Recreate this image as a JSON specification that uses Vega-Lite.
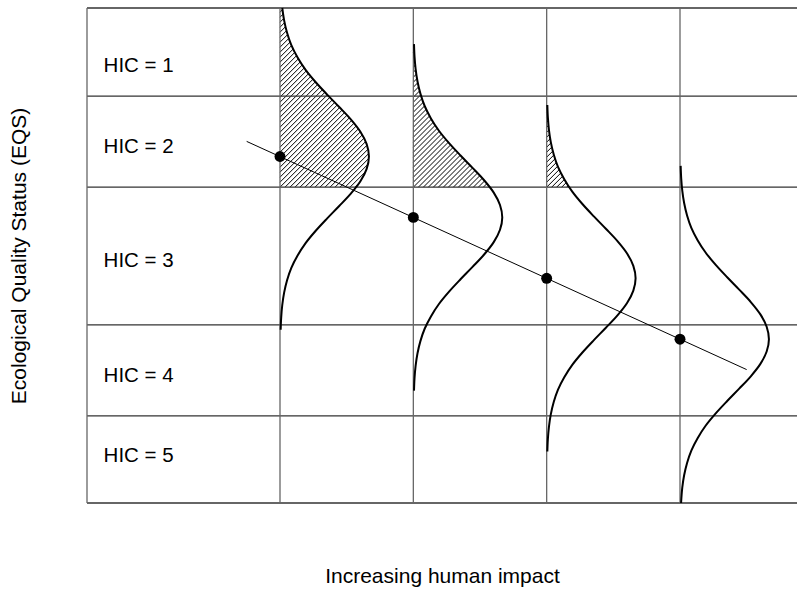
{
  "$schema": "https://vega.github.io/schema/vega-lite/v6.json",
  "width": 710,
  "height": 495,
  "autosize": "none",
  "padding": {"left": 87, "top": 8, "right": 0, "bottom": 86},
  "background": "white",
  "config": {"view": {"stroke": null}, "font": "Liberation Sans"},
  "datasets": {
    "hgrid": [
      {"impact": -0.4475, "impact2": 4.8775, "eqs": 0},
      {"impact": -0.4475, "impact2": 4.8775, "eqs": 0.176},
      {"impact": -0.4475, "impact2": 4.8775, "eqs": 0.36},
      {"impact": -0.4475, "impact2": 4.8775, "eqs": 0.638},
      {"impact": -0.4475, "impact2": 4.8775, "eqs": 0.822},
      {"impact": -0.4475, "impact2": 4.8775, "eqs": 1.0}
    ],
    "vgrid": [
      {"impact": -0.4475, "eqs": 0, "eqs2": 1},
      {"impact": 1, "eqs": 0, "eqs2": 1},
      {"impact": 2, "eqs": 0, "eqs2": 1},
      {"impact": 3, "eqs": 0, "eqs2": 1},
      {"impact": 4, "eqs": 0, "eqs2": 1}
    ],
    "hatch": [
      {"impact": 1.5625, "eqs": 0.638, "impact2": 1.675, "eqs2": 0.6683},
      {"impact": 1.525, "eqs": 0.638, "impact2": 1.675, "eqs2": 0.6784},
      {"impact": 1.4875, "eqs": 0.638, "impact2": 1.675, "eqs2": 0.6885},
      {"impact": 1.45, "eqs": 0.638, "impact2": 1.675, "eqs2": 0.6986},
      {"impact": 1.4125, "eqs": 0.638, "impact2": 1.675, "eqs2": 0.7087},
      {"impact": 1.375, "eqs": 0.638, "impact2": 1.675, "eqs2": 0.7188},
      {"impact": 1.3375, "eqs": 0.638, "impact2": 1.675, "eqs2": 0.7289},
      {"impact": 1.3, "eqs": 0.638, "impact2": 1.675, "eqs2": 0.739},
      {"impact": 1.2625, "eqs": 0.638, "impact2": 1.675, "eqs2": 0.7491},
      {"impact": 1.225, "eqs": 0.638, "impact2": 1.675, "eqs2": 0.7592},
      {"impact": 1.1875, "eqs": 0.638, "impact2": 1.675, "eqs2": 0.7693},
      {"impact": 1.15, "eqs": 0.638, "impact2": 1.675, "eqs2": 0.7794},
      {"impact": 1.1125, "eqs": 0.638, "impact2": 1.675, "eqs2": 0.7895},
      {"impact": 1.075, "eqs": 0.638, "impact2": 1.675, "eqs2": 0.7996},
      {"impact": 1.0375, "eqs": 0.638, "impact2": 1.675, "eqs2": 0.8097},
      {"impact": 1, "eqs": 0.638, "impact2": 1.675, "eqs2": 0.8198},
      {"impact": 1, "eqs": 0.6481, "impact2": 1.675, "eqs2": 0.8299},
      {"impact": 1, "eqs": 0.6582, "impact2": 1.675, "eqs2": 0.84},
      {"impact": 1, "eqs": 0.6683, "impact2": 1.675, "eqs2": 0.8501},
      {"impact": 1, "eqs": 0.6784, "impact2": 1.675, "eqs2": 0.8602},
      {"impact": 1, "eqs": 0.6885, "impact2": 1.675, "eqs2": 0.8703},
      {"impact": 1, "eqs": 0.6986, "impact2": 1.675, "eqs2": 0.8804},
      {"impact": 1, "eqs": 0.7087, "impact2": 1.675, "eqs2": 0.8905},
      {"impact": 1, "eqs": 0.7188, "impact2": 1.675, "eqs2": 0.9006},
      {"impact": 1, "eqs": 0.7289, "impact2": 1.675, "eqs2": 0.9107},
      {"impact": 1, "eqs": 0.739, "impact2": 1.675, "eqs2": 0.9208},
      {"impact": 1, "eqs": 0.7491, "impact2": 1.675, "eqs2": 0.9309},
      {"impact": 1, "eqs": 0.7592, "impact2": 1.675, "eqs2": 0.941},
      {"impact": 1, "eqs": 0.7693, "impact2": 1.675, "eqs2": 0.9511},
      {"impact": 1, "eqs": 0.7794, "impact2": 1.675, "eqs2": 0.9612},
      {"impact": 1, "eqs": 0.7895, "impact2": 1.675, "eqs2": 0.9713},
      {"impact": 1, "eqs": 0.7996, "impact2": 1.675, "eqs2": 0.9814},
      {"impact": 1, "eqs": 0.8097, "impact2": 1.675, "eqs2": 0.9915},
      {"impact": 1, "eqs": 0.8198, "impact2": 1.675, "eqs2": 1.0016},
      {"impact": 1, "eqs": 0.8299, "impact2": 1.6375, "eqs2": 1.0016},
      {"impact": 1, "eqs": 0.84, "impact2": 1.6, "eqs2": 1.0016},
      {"impact": 1, "eqs": 0.8501, "impact2": 1.5625, "eqs2": 1.0016},
      {"impact": 1, "eqs": 0.8602, "impact2": 1.525, "eqs2": 1.0016},
      {"impact": 1, "eqs": 0.8703, "impact2": 1.4875, "eqs2": 1.0016},
      {"impact": 1, "eqs": 0.8804, "impact2": 1.45, "eqs2": 1.0016},
      {"impact": 1, "eqs": 0.8905, "impact2": 1.4125, "eqs2": 1.0016},
      {"impact": 1, "eqs": 0.9006, "impact2": 1.375, "eqs2": 1.0016},
      {"impact": 1, "eqs": 0.9107, "impact2": 1.3375, "eqs2": 1.0016},
      {"impact": 1, "eqs": 0.9208, "impact2": 1.3, "eqs2": 1.0016},
      {"impact": 1, "eqs": 0.9309, "impact2": 1.2625, "eqs2": 1.0016},
      {"impact": 1, "eqs": 0.941, "impact2": 1.225, "eqs2": 1.0016},
      {"impact": 1, "eqs": 0.9511, "impact2": 1.1875, "eqs2": 1.0016},
      {"impact": 1, "eqs": 0.9612, "impact2": 1.15, "eqs2": 1.0016},
      {"impact": 1, "eqs": 0.9713, "impact2": 1.1125, "eqs2": 1.0016},
      {"impact": 1, "eqs": 0.9814, "impact2": 1.075, "eqs2": 1.0016},
      {"impact": 1, "eqs": 0.9915, "impact2": 1.0375, "eqs2": 1.0016},
      {"impact": 2.5625, "eqs": 0.638, "impact2": 2.6, "eqs2": 0.6481},
      {"impact": 2.525, "eqs": 0.638, "impact2": 2.6, "eqs2": 0.6582},
      {"impact": 2.4875, "eqs": 0.638, "impact2": 2.6, "eqs2": 0.6683},
      {"impact": 2.45, "eqs": 0.638, "impact2": 2.6, "eqs2": 0.6784},
      {"impact": 2.4125, "eqs": 0.638, "impact2": 2.6, "eqs2": 0.6885},
      {"impact": 2.375, "eqs": 0.638, "impact2": 2.6, "eqs2": 0.6986},
      {"impact": 2.3375, "eqs": 0.638, "impact2": 2.6, "eqs2": 0.7087},
      {"impact": 2.3, "eqs": 0.638, "impact2": 2.6, "eqs2": 0.7188},
      {"impact": 2.2625, "eqs": 0.638, "impact2": 2.6, "eqs2": 0.7289},
      {"impact": 2.225, "eqs": 0.638, "impact2": 2.6, "eqs2": 0.739},
      {"impact": 2.1875, "eqs": 0.638, "impact2": 2.6, "eqs2": 0.7491},
      {"impact": 2.15, "eqs": 0.638, "impact2": 2.6, "eqs2": 0.7592},
      {"impact": 2.1125, "eqs": 0.638, "impact2": 2.6, "eqs2": 0.7693},
      {"impact": 2.075, "eqs": 0.638, "impact2": 2.6, "eqs2": 0.7794},
      {"impact": 2.0375, "eqs": 0.638, "impact2": 2.6, "eqs2": 0.7895},
      {"impact": 2, "eqs": 0.638, "impact2": 2.6, "eqs2": 0.7996},
      {"impact": 2, "eqs": 0.6481, "impact2": 2.6, "eqs2": 0.8097},
      {"impact": 2, "eqs": 0.6582, "impact2": 2.6, "eqs2": 0.8198},
      {"impact": 2, "eqs": 0.6683, "impact2": 2.6, "eqs2": 0.8299},
      {"impact": 2, "eqs": 0.6784, "impact2": 2.6, "eqs2": 0.84},
      {"impact": 2, "eqs": 0.6885, "impact2": 2.6, "eqs2": 0.8501},
      {"impact": 2, "eqs": 0.6986, "impact2": 2.6, "eqs2": 0.8602},
      {"impact": 2, "eqs": 0.7087, "impact2": 2.6, "eqs2": 0.8703},
      {"impact": 2, "eqs": 0.7188, "impact2": 2.6, "eqs2": 0.8804},
      {"impact": 2, "eqs": 0.7289, "impact2": 2.6, "eqs2": 0.8905},
      {"impact": 2, "eqs": 0.739, "impact2": 2.6, "eqs2": 0.9006},
      {"impact": 2, "eqs": 0.7491, "impact2": 2.6, "eqs2": 0.9107},
      {"impact": 2, "eqs": 0.7592, "impact2": 2.6, "eqs2": 0.9208},
      {"impact": 2, "eqs": 0.7693, "impact2": 2.5625, "eqs2": 0.9208},
      {"impact": 2, "eqs": 0.7794, "impact2": 2.525, "eqs2": 0.9208},
      {"impact": 2, "eqs": 0.7895, "impact2": 2.4875, "eqs2": 0.9208},
      {"impact": 2, "eqs": 0.7996, "impact2": 2.45, "eqs2": 0.9208},
      {"impact": 2, "eqs": 0.8097, "impact2": 2.4125, "eqs2": 0.9208},
      {"impact": 2, "eqs": 0.8198, "impact2": 2.375, "eqs2": 0.9208},
      {"impact": 2, "eqs": 0.8299, "impact2": 2.3375, "eqs2": 0.9208},
      {"impact": 2, "eqs": 0.84, "impact2": 2.3, "eqs2": 0.9208},
      {"impact": 2, "eqs": 0.8501, "impact2": 2.2625, "eqs2": 0.9208},
      {"impact": 2, "eqs": 0.8602, "impact2": 2.225, "eqs2": 0.9208},
      {"impact": 2, "eqs": 0.8703, "impact2": 2.1875, "eqs2": 0.9208},
      {"impact": 2, "eqs": 0.8804, "impact2": 2.15, "eqs2": 0.9208},
      {"impact": 2, "eqs": 0.8905, "impact2": 2.1125, "eqs2": 0.9208},
      {"impact": 2, "eqs": 0.9006, "impact2": 2.075, "eqs2": 0.9208},
      {"impact": 2, "eqs": 0.9107, "impact2": 2.0375, "eqs2": 0.9208},
      {"impact": 3.15, "eqs": 0.638, "impact2": 3.1875, "eqs2": 0.6481},
      {"impact": 3.1125, "eqs": 0.638, "impact2": 3.1875, "eqs2": 0.6582},
      {"impact": 3.075, "eqs": 0.638, "impact2": 3.1875, "eqs2": 0.6683},
      {"impact": 3.0375, "eqs": 0.638, "impact2": 3.1875, "eqs2": 0.6784},
      {"impact": 3, "eqs": 0.638, "impact2": 3.1875, "eqs2": 0.6885},
      {"impact": 3, "eqs": 0.6481, "impact2": 3.1875, "eqs2": 0.6986},
      {"impact": 3, "eqs": 0.6582, "impact2": 3.1875, "eqs2": 0.7087},
      {"impact": 3, "eqs": 0.6683, "impact2": 3.1875, "eqs2": 0.7188},
      {"impact": 3, "eqs": 0.6784, "impact2": 3.1875, "eqs2": 0.7289},
      {"impact": 3, "eqs": 0.6885, "impact2": 3.1875, "eqs2": 0.739},
      {"impact": 3, "eqs": 0.6986, "impact2": 3.1875, "eqs2": 0.7491},
      {"impact": 3, "eqs": 0.7087, "impact2": 3.1875, "eqs2": 0.7592},
      {"impact": 3, "eqs": 0.7188, "impact2": 3.1875, "eqs2": 0.7693},
      {"impact": 3, "eqs": 0.7289, "impact2": 3.1875, "eqs2": 0.7794},
      {"impact": 3, "eqs": 0.739, "impact2": 3.1875, "eqs2": 0.7895},
      {"impact": 3, "eqs": 0.7491, "impact2": 3.1875, "eqs2": 0.7996},
      {"impact": 3, "eqs": 0.7592, "impact2": 3.15, "eqs2": 0.7996},
      {"impact": 3, "eqs": 0.7693, "impact2": 3.1125, "eqs2": 0.7996},
      {"impact": 3, "eqs": 0.7794, "impact2": 3.075, "eqs2": 0.7996},
      {"impact": 3, "eqs": 0.7895, "impact2": 3.0375, "eqs2": 0.7996}
    ],
    "mask": [
      {"m": 1, "eqs": 0.638, "impact": 1.5706, "impact2": 1.75},
      {"m": 1, "eqs": 0.65, "impact": 1.603, "impact2": 1.75},
      {"m": 1, "eqs": 0.675, "impact": 1.65, "impact2": 1.75},
      {"m": 1, "eqs": 0.7, "impact": 1.667, "impact2": 1.75},
      {"m": 1, "eqs": 0.725, "impact": 1.65, "impact2": 1.75},
      {"m": 1, "eqs": 0.75, "impact": 1.603, "impact2": 1.75},
      {"m": 1, "eqs": 0.775, "impact": 1.531, "impact2": 1.75},
      {"m": 1, "eqs": 0.8, "impact": 1.444, "impact2": 1.75},
      {"m": 1, "eqs": 0.825, "impact": 1.354, "impact2": 1.75},
      {"m": 1, "eqs": 0.85, "impact": 1.268, "impact2": 1.75},
      {"m": 1, "eqs": 0.875, "impact": 1.192, "impact2": 1.75},
      {"m": 1, "eqs": 0.9, "impact": 1.132, "impact2": 1.75},
      {"m": 1, "eqs": 0.925, "impact": 1.085, "impact2": 1.75},
      {"m": 1, "eqs": 0.95, "impact": 1.053, "impact2": 1.75},
      {"m": 1, "eqs": 0.975, "impact": 1.031, "impact2": 1.75},
      {"m": 1, "eqs": 1.0, "impact": 1.017, "impact2": 1.75},
      {"m": 2, "eqs": 0.638, "impact": 2.5737, "impact2": 2.7},
      {"m": 2, "eqs": 0.652, "impact": 2.531, "impact2": 2.7},
      {"m": 2, "eqs": 0.677, "impact": 2.444, "impact2": 2.7},
      {"m": 2, "eqs": 0.702, "impact": 2.354, "impact2": 2.7},
      {"m": 2, "eqs": 0.727, "impact": 2.268, "impact2": 2.7},
      {"m": 2, "eqs": 0.752, "impact": 2.192, "impact2": 2.7},
      {"m": 2, "eqs": 0.777, "impact": 2.132, "impact2": 2.7},
      {"m": 2, "eqs": 0.802, "impact": 2.085, "impact2": 2.7},
      {"m": 2, "eqs": 0.827, "impact": 2.053, "impact2": 2.7},
      {"m": 2, "eqs": 0.852, "impact": 2.031, "impact2": 2.7},
      {"m": 2, "eqs": 0.877, "impact": 2.017, "impact2": 2.7},
      {"m": 2, "eqs": 0.902, "impact": 2.009, "impact2": 2.7},
      {"m": 2, "eqs": 0.927, "impact": 2.005, "impact2": 2.7},
      {"m": 3, "eqs": 0.638, "impact": 3.1688, "impact2": 3.25},
      {"m": 3, "eqs": 0.654, "impact": 3.132, "impact2": 3.25},
      {"m": 3, "eqs": 0.679, "impact": 3.085, "impact2": 3.25},
      {"m": 3, "eqs": 0.704, "impact": 3.053, "impact2": 3.25},
      {"m": 3, "eqs": 0.729, "impact": 3.031, "impact2": 3.25},
      {"m": 3, "eqs": 0.754, "impact": 3.017, "impact2": 3.25},
      {"m": 3, "eqs": 0.779, "impact": 3.009, "impact2": 3.25},
      {"m": 3, "eqs": 0.804, "impact": 3.005, "impact2": 3.25}
    ],
    "curves": [
      {"curve": 1, "eqs": 0.35, "impact": 1.005},
      {"curve": 1, "eqs": 0.375, "impact": 1.009},
      {"curve": 1, "eqs": 0.4, "impact": 1.017},
      {"curve": 1, "eqs": 0.425, "impact": 1.031},
      {"curve": 1, "eqs": 0.45, "impact": 1.053},
      {"curve": 1, "eqs": 0.475, "impact": 1.085},
      {"curve": 1, "eqs": 0.5, "impact": 1.132},
      {"curve": 1, "eqs": 0.525, "impact": 1.192},
      {"curve": 1, "eqs": 0.55, "impact": 1.268},
      {"curve": 1, "eqs": 0.575, "impact": 1.354},
      {"curve": 1, "eqs": 0.6, "impact": 1.444},
      {"curve": 1, "eqs": 0.625, "impact": 1.531},
      {"curve": 1, "eqs": 0.65, "impact": 1.603},
      {"curve": 1, "eqs": 0.675, "impact": 1.65},
      {"curve": 1, "eqs": 0.7, "impact": 1.667},
      {"curve": 1, "eqs": 0.725, "impact": 1.65},
      {"curve": 1, "eqs": 0.75, "impact": 1.603},
      {"curve": 1, "eqs": 0.775, "impact": 1.531},
      {"curve": 1, "eqs": 0.8, "impact": 1.444},
      {"curve": 1, "eqs": 0.825, "impact": 1.354},
      {"curve": 1, "eqs": 0.85, "impact": 1.268},
      {"curve": 1, "eqs": 0.875, "impact": 1.192},
      {"curve": 1, "eqs": 0.9, "impact": 1.132},
      {"curve": 1, "eqs": 0.925, "impact": 1.085},
      {"curve": 1, "eqs": 0.95, "impact": 1.053},
      {"curve": 1, "eqs": 0.975, "impact": 1.031},
      {"curve": 1, "eqs": 1.0, "impact": 1.017},
      {"curve": 2, "eqs": 0.227, "impact": 2.005},
      {"curve": 2, "eqs": 0.252, "impact": 2.009},
      {"curve": 2, "eqs": 0.277, "impact": 2.017},
      {"curve": 2, "eqs": 0.302, "impact": 2.031},
      {"curve": 2, "eqs": 0.327, "impact": 2.053},
      {"curve": 2, "eqs": 0.352, "impact": 2.085},
      {"curve": 2, "eqs": 0.377, "impact": 2.132},
      {"curve": 2, "eqs": 0.402, "impact": 2.192},
      {"curve": 2, "eqs": 0.427, "impact": 2.268},
      {"curve": 2, "eqs": 0.452, "impact": 2.354},
      {"curve": 2, "eqs": 0.477, "impact": 2.444},
      {"curve": 2, "eqs": 0.502, "impact": 2.531},
      {"curve": 2, "eqs": 0.527, "impact": 2.603},
      {"curve": 2, "eqs": 0.552, "impact": 2.65},
      {"curve": 2, "eqs": 0.577, "impact": 2.667},
      {"curve": 2, "eqs": 0.602, "impact": 2.65},
      {"curve": 2, "eqs": 0.627, "impact": 2.603},
      {"curve": 2, "eqs": 0.652, "impact": 2.531},
      {"curve": 2, "eqs": 0.677, "impact": 2.444},
      {"curve": 2, "eqs": 0.702, "impact": 2.354},
      {"curve": 2, "eqs": 0.727, "impact": 2.268},
      {"curve": 2, "eqs": 0.752, "impact": 2.192},
      {"curve": 2, "eqs": 0.777, "impact": 2.132},
      {"curve": 2, "eqs": 0.802, "impact": 2.085},
      {"curve": 2, "eqs": 0.827, "impact": 2.053},
      {"curve": 2, "eqs": 0.852, "impact": 2.031},
      {"curve": 2, "eqs": 0.877, "impact": 2.017},
      {"curve": 2, "eqs": 0.902, "impact": 2.009},
      {"curve": 2, "eqs": 0.927, "impact": 2.005},
      {"curve": 3, "eqs": 0.104, "impact": 3.005},
      {"curve": 3, "eqs": 0.129, "impact": 3.009},
      {"curve": 3, "eqs": 0.154, "impact": 3.017},
      {"curve": 3, "eqs": 0.179, "impact": 3.031},
      {"curve": 3, "eqs": 0.204, "impact": 3.053},
      {"curve": 3, "eqs": 0.229, "impact": 3.085},
      {"curve": 3, "eqs": 0.254, "impact": 3.132},
      {"curve": 3, "eqs": 0.279, "impact": 3.192},
      {"curve": 3, "eqs": 0.304, "impact": 3.268},
      {"curve": 3, "eqs": 0.329, "impact": 3.354},
      {"curve": 3, "eqs": 0.354, "impact": 3.444},
      {"curve": 3, "eqs": 0.379, "impact": 3.531},
      {"curve": 3, "eqs": 0.404, "impact": 3.603},
      {"curve": 3, "eqs": 0.429, "impact": 3.65},
      {"curve": 3, "eqs": 0.454, "impact": 3.667},
      {"curve": 3, "eqs": 0.479, "impact": 3.65},
      {"curve": 3, "eqs": 0.504, "impact": 3.603},
      {"curve": 3, "eqs": 0.529, "impact": 3.531},
      {"curve": 3, "eqs": 0.554, "impact": 3.444},
      {"curve": 3, "eqs": 0.579, "impact": 3.354},
      {"curve": 3, "eqs": 0.604, "impact": 3.268},
      {"curve": 3, "eqs": 0.629, "impact": 3.192},
      {"curve": 3, "eqs": 0.654, "impact": 3.132},
      {"curve": 3, "eqs": 0.679, "impact": 3.085},
      {"curve": 3, "eqs": 0.704, "impact": 3.053},
      {"curve": 3, "eqs": 0.729, "impact": 3.031},
      {"curve": 3, "eqs": 0.754, "impact": 3.017},
      {"curve": 3, "eqs": 0.779, "impact": 3.009},
      {"curve": 3, "eqs": 0.804, "impact": 3.005},
      {"curve": 4, "eqs": 0.0, "impact": 4.008},
      {"curve": 4, "eqs": 0.031, "impact": 4.017},
      {"curve": 4, "eqs": 0.056, "impact": 4.031},
      {"curve": 4, "eqs": 0.081, "impact": 4.053},
      {"curve": 4, "eqs": 0.106, "impact": 4.085},
      {"curve": 4, "eqs": 0.131, "impact": 4.132},
      {"curve": 4, "eqs": 0.156, "impact": 4.192},
      {"curve": 4, "eqs": 0.181, "impact": 4.268},
      {"curve": 4, "eqs": 0.206, "impact": 4.354},
      {"curve": 4, "eqs": 0.231, "impact": 4.444},
      {"curve": 4, "eqs": 0.256, "impact": 4.531},
      {"curve": 4, "eqs": 0.281, "impact": 4.603},
      {"curve": 4, "eqs": 0.306, "impact": 4.65},
      {"curve": 4, "eqs": 0.331, "impact": 4.667},
      {"curve": 4, "eqs": 0.356, "impact": 4.65},
      {"curve": 4, "eqs": 0.381, "impact": 4.603},
      {"curve": 4, "eqs": 0.406, "impact": 4.531},
      {"curve": 4, "eqs": 0.431, "impact": 4.444},
      {"curve": 4, "eqs": 0.456, "impact": 4.354},
      {"curve": 4, "eqs": 0.481, "impact": 4.268},
      {"curve": 4, "eqs": 0.506, "impact": 4.192},
      {"curve": 4, "eqs": 0.531, "impact": 4.132},
      {"curve": 4, "eqs": 0.556, "impact": 4.085},
      {"curve": 4, "eqs": 0.581, "impact": 4.053},
      {"curve": 4, "eqs": 0.606, "impact": 4.031},
      {"curve": 4, "eqs": 0.631, "impact": 4.017},
      {"curve": 4, "eqs": 0.656, "impact": 4.009},
      {"curve": 4, "eqs": 0.681, "impact": 4.005}
    ],
    "trend": [
      {"impact": 0.75, "eqs": 0.7305, "impact2": 4.5, "eqs2": 0.2695}
    ],
    "dots": [
      {"impact": 1, "eqs": 0.7},
      {"impact": 2, "eqs": 0.577},
      {"impact": 3, "eqs": 0.454},
      {"impact": 4, "eqs": 0.331}
    ],
    "labels": [
      {"impact": -0.323, "eqs": 0.8707, "label": "HIC = 1"},
      {"impact": -0.323, "eqs": 0.7071, "label": "HIC = 2"},
      {"impact": -0.323, "eqs": 0.4762, "label": "HIC = 3"},
      {"impact": -0.323, "eqs": 0.2444, "label": "HIC = 4"},
      {"impact": -0.323, "eqs": 0.0828, "label": "HIC = 5"}
    ]
  },
  "encoding": {
    "x": {
      "field": "impact",
      "type": "quantitative",
      "scale": {"domain": [-0.4475, 4.8775], "nice": false, "zero": false},
      "axis": {
        "title": "Increasing human impact",
        "labels": false, "ticks": false, "domain": false, "grid": false,
        "titleFont": "Liberation Sans", "titleFontSize": 21, "titleFontWeight": "normal",
        "titleColor": "black", "titlePadding": 79, "titleBaseline": "alphabetic"
      }
    },
    "y": {
      "field": "eqs",
      "type": "quantitative",
      "scale": {"domain": [0, 1], "nice": false, "zero": false},
      "axis": {
        "title": "Ecological Quality Status (EQS)",
        "labels": false, "ticks": false, "domain": false, "grid": false,
        "titleFont": "Liberation Sans", "titleFontSize": 21, "titleFontWeight": "normal",
        "titleColor": "black", "titlePadding": 61.5, "titleBaseline": "alphabetic"
      }
    }
  },
  "layer": [
    {
      "data": {"name": "hatch"},
      "mark": {"type": "rule", "stroke": "black", "strokeWidth": 1, "clip": true},
      "encoding": {"x2": {"field": "impact2"}, "y2": {"field": "eqs2"}}
    },
    {
      "data": {"name": "mask"},
      "mark": {"type": "area", "orient": "horizontal", "fill": "white", "interpolate": "catmull-rom"},
      "encoding": {"x2": {"field": "impact2"}, "detail": {"field": "m"}}
    },
    {
      "data": {"name": "hgrid"},
      "mark": {"type": "rule", "stroke": "#333", "strokeWidth": 1.3},
      "encoding": {"x2": {"field": "impact2"}}
    },
    {
      "data": {"name": "vgrid"},
      "mark": {"type": "rule", "stroke": "#666", "strokeWidth": 1.3},
      "encoding": {"y2": {"field": "eqs2"}}
    },
    {
      "data": {"name": "curves"},
      "mark": {"type": "line", "stroke": "black", "strokeWidth": 2, "interpolate": "catmull-rom"},
      "encoding": {"detail": {"field": "curve"}, "order": {"field": "eqs", "type": "quantitative"}}
    },
    {
      "data": {"name": "trend"},
      "mark": {"type": "rule", "stroke": "black", "strokeWidth": 1},
      "encoding": {"x2": {"field": "impact2"}, "y2": {"field": "eqs2"}}
    },
    {
      "data": {"name": "dots"},
      "mark": {"type": "circle", "color": "black", "opacity": 1, "size": 120}
    },
    {
      "data": {"name": "labels"},
      "mark": {"type": "text", "align": "left", "baseline": "alphabetic", "font": "Liberation Sans", "fontSize": 20.5, "color": "black"},
      "encoding": {"text": {"field": "label"}}
    }
  ]
}
